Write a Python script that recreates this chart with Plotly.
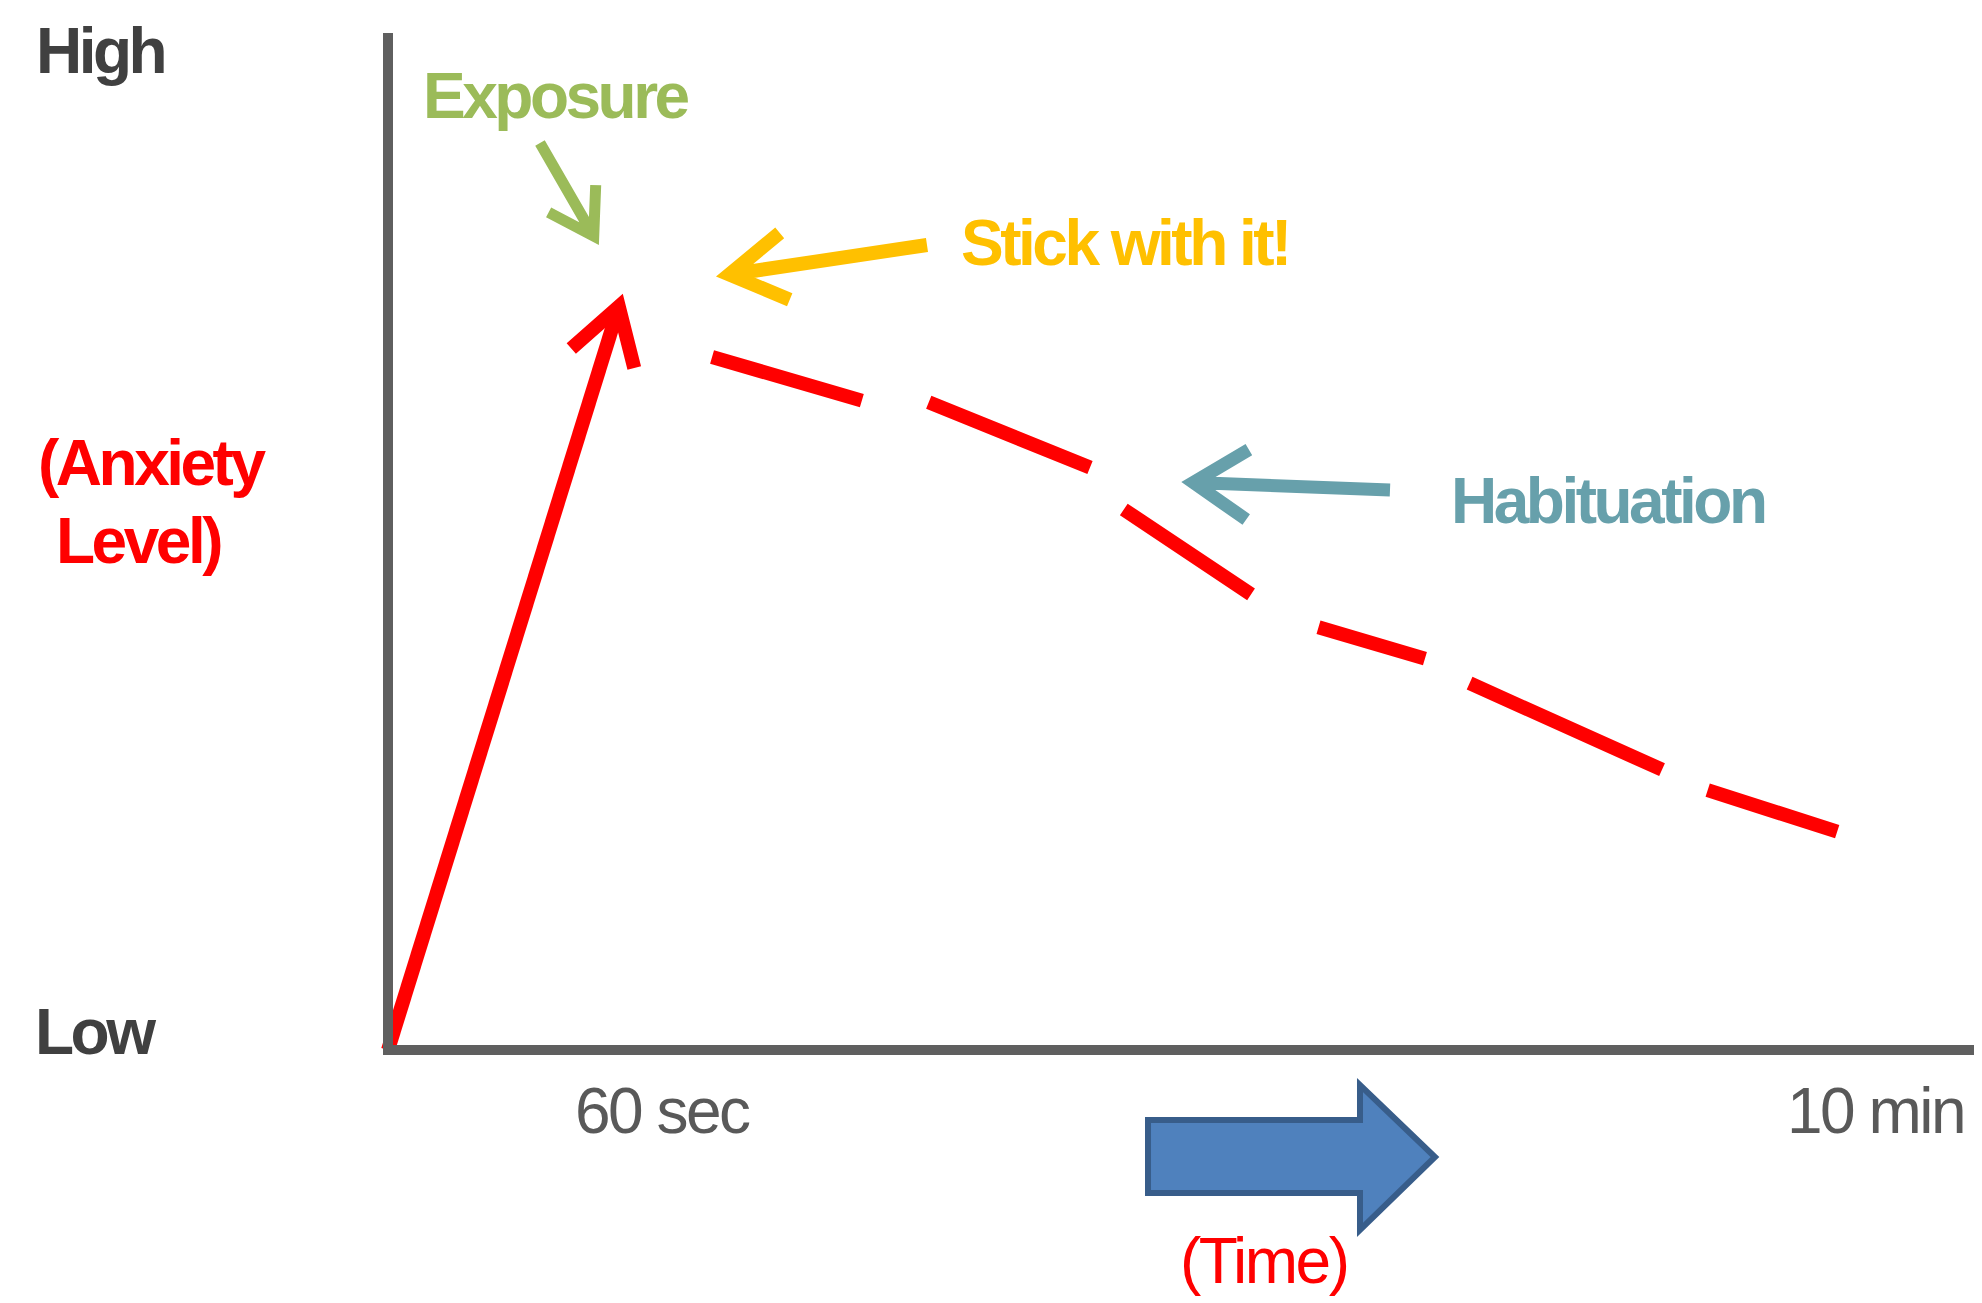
import math
import plotly.graph_objects as go

# ---------------- data (schematic units: time 0..100, anxiety 0=Low .. 100=High) ----------------
rise_time = [0.0, 14.48]
rise_level = [0.0, 73.10]

habituation_time = [20.33, 29.80, 33.88, 44.10, 46.11, 54.20, 58.34, 65.12, 67.82, 80.05, 82.75, 90.97]
habituation_level = [68.14, 63.82, 63.72, 57.23, 53.20, 44.74, 41.59, 38.45, 36.09, 27.63, 25.57, 21.44]

tick_times = [17.25, 93.29]
tick_labels = ["60 sec", "10 min"]

level_labels = ["High", "Low"]
level_title = ["(Anxiety", "Level)"]
time_title = "(Time)"
callouts = ["Exposure", "Stick with it!", "Habituation"]

# ---------------- layout constants (window pixel coordinates) ----------------
WIN_W, WIN_H = 1982, 1303
OFF = 8                         # page body margin
W, H = WIN_W - OFF, WIN_H - OFF  # figure size
OX, OY = 388.0, 1050.0          # window pixel position of the origin
SX, SY = 15.94, 10.17           # pixels per data unit
X_RANGE = [-(OX - OFF) / SX, (WIN_W - OX) / SX]
Y_RANGE = [-(WIN_H - OY) / SY, (OY - OFF) / SY]

FONT = "Liberation Sans, Arial, Helvetica, sans-serif"
RED = "#FF0000"
GREEN = "#9BBB59"
ORANGE = "#FFC000"
TEAL = "#67A0AB"
AXIS = "#5F5F5F"
DARK = "#404040"
GREY = "#595959"


def to_px(x, y):
    return OX + x * SX, OY - y * SY


def paper(px, py):
    return (px - OFF) / W, 1 - (py - OFF) / H


def pt(px, py):
    a, b = paper(px, py)
    return f"{a:.5f},{b:.5f}"


def chevron_path(tail, tip, barb, ang_deg, width, offset_tip=True, shaft=True):
    """Open arrow head: barb ends are placed 'barb' px from the visible tip."""
    dx, dy = tail[0] - tip[0], tail[1] - tip[1]
    n = math.hypot(dx, dy)
    ux, uy = dx / n, dy / n
    a = math.radians(ang_deg)
    c, s = math.cos(a), math.sin(a)
    r1 = (ux * c - uy * s, ux * s + uy * c)
    r2 = (ux * c + uy * s, -ux * s + uy * c)
    if offset_tip:
        vtx = (tip[0] + ux * (width / 2) / s, tip[1] + uy * (width / 2) / s)
        ref = tip
    else:
        vtx = tip
        ref = (tip[0] - ux * (width / 2) / s, tip[1] - uy * (width / 2) / s)
    b1 = (ref[0] + r1[0] * barb, ref[1] + r1[1] * barb)
    b2 = (ref[0] + r2[0] * barb, ref[1] + r2[1] * barb)
    p = f"M {pt(*b1)} L {pt(*vtx)} L {pt(*b2)}"
    if shaft:
        p += f" M {pt(*tail)} L {pt(*vtx)}"
    return p


fig = go.Figure()

# rising anxiety (solid)
fig.add_trace(go.Scatter(
    x=rise_time, y=rise_level, mode="lines",
    line=dict(color=RED, width=14), hoverinfo="skip", showlegend=False,
))

# habituation (dashed) - dash pattern follows the drawn segments (dash, gap, dash, ...)
seg = []
for i in range(len(habituation_time) - 1):
    p0 = to_px(habituation_time[i], habituation_level[i])
    p1 = to_px(habituation_time[i + 1], habituation_level[i + 1])
    seg.append(math.hypot(p1[0] - p0[0], p1[1] - p0[1]))
pattern = []
for i, L in enumerate(seg):
    if i % 2 == 0:  # dash
        trim = (1 if i == 0 else 2)
        pattern.append(max(1, round(L - trim)))
    else:           # gap
        pattern.append(round(L + 2))
if len(pattern) % 2 == 1:
    pattern.append(500)
dash = ",".join(f"{v}px" for v in pattern)

fig.add_trace(go.Scatter(
    x=habituation_time, y=habituation_level, mode="lines",
    line=dict(color=RED, width=14, dash=dash), hoverinfo="skip", showlegend=False,
))

shapes = []
# axis lines
shapes.append(dict(type="line", xref="paper", yref="paper",
                   x0=paper(388, 0)[0], x1=paper(388, 0)[0],
                   y0=paper(0, 33)[1], y1=paper(0, 1055)[1],
                   line=dict(color=AXIS, width=10)))
shapes.append(dict(type="line", xref="paper", yref="paper",
                   x0=paper(383, 0)[0], x1=1.0,
                   y0=paper(0, 1050)[1], y1=paper(0, 1050)[1],
                   line=dict(color=AXIS, width=10)))

# red arrowhead at the peak of the rise
tail_px = to_px(rise_time[-2], rise_level[-2])
tip_px = to_px(rise_time[-1], rise_level[-1])
shapes.append(dict(type="path", xref="paper", yref="paper",
                   path=chevron_path(tail_px, tip_px, 78, 25, 14, offset_tip=False, shaft=False),
                   line=dict(color=RED, width=14)))

# callout arrows
shapes.append(dict(type="path", xref="paper", yref="paper",
                   path=chevron_path((540, 143), (600, 247), 62, 26, 11),
                   line=dict(color=GREEN, width=11)))
shapes.append(dict(type="path", xref="paper", yref="paper",
                   path=chevron_path((927, 245), (713, 277), 80, 25, 14),
                   line=dict(color=ORANGE, width=14)))
shapes.append(dict(type="path", xref="paper", yref="paper",
                   path=chevron_path((1390, 490), (1179, 482), 77, 27, 13),
                   line=dict(color=TEAL, width=13)))

# block arrow for time
blk = [(1148, 1120), (1360, 1120), (1360, 1085), (1435, 1157), (1360, 1230), (1360, 1193), (1148, 1193)]
shapes.append(dict(type="path", xref="paper", yref="paper",
                   path="M " + " L ".join(pt(*p) for p in blk) + " Z",
                   fillcolor="#4F81BD", line=dict(color="#385D8A", width=6)))


def txt(text, px, py, size, color, bold=True, xanchor="center", ls=-3.5, xref="paper", xval=None):
    x, y = paper(px, py)
    return dict(text=f'<span style="letter-spacing:{ls}px">{text}</span>',
                x=x if xval is None else xval, y=y, xref=xref, yref="paper", showarrow=False,
                xanchor=xanchor, yanchor="middle",
                font=dict(family=FONT, size=size, color=color,
                          weight="bold" if bold else "normal"))


ann = [
    txt(level_labels[0], 34, 51, 64, DARK, xanchor="left"),
    txt(level_labels[1], 33, 1032, 64, DARK, xanchor="left"),
    txt(level_title[0], 36, 463, 64, RED, xanchor="left"),
    txt(level_title[1], 54, 541, 64, RED, xanchor="left"),
    txt(callouts[0], 556, 96, 64, GREEN),
    txt(callouts[1], 1125, 243, 64, ORANGE),
    txt(callouts[2], 1608, 501, 64, TEAL),
    txt(time_title, 1263, 1261, 64, RED, bold=False, ls=-2.5),
]
# time tick labels, placed along the x axis scale
for t, lab in zip(tick_times, tick_labels):
    ann.append(txt(lab, 0, 1111, 64, GREY, bold=False, ls=-2.5, xref="x", xval=t))

fig.update_layout(
    width=W, height=H,
    margin=dict(l=0, r=0, t=0, b=0),
    paper_bgcolor="white", plot_bgcolor="white",
    showlegend=False, hovermode=False,
    shapes=shapes, annotations=ann,
    xaxis=dict(range=X_RANGE, visible=False, fixedrange=True),
    yaxis=dict(range=Y_RANGE, visible=False, fixedrange=True),
)

fig.write_html("out.html", config={"displayModeBar": False})
